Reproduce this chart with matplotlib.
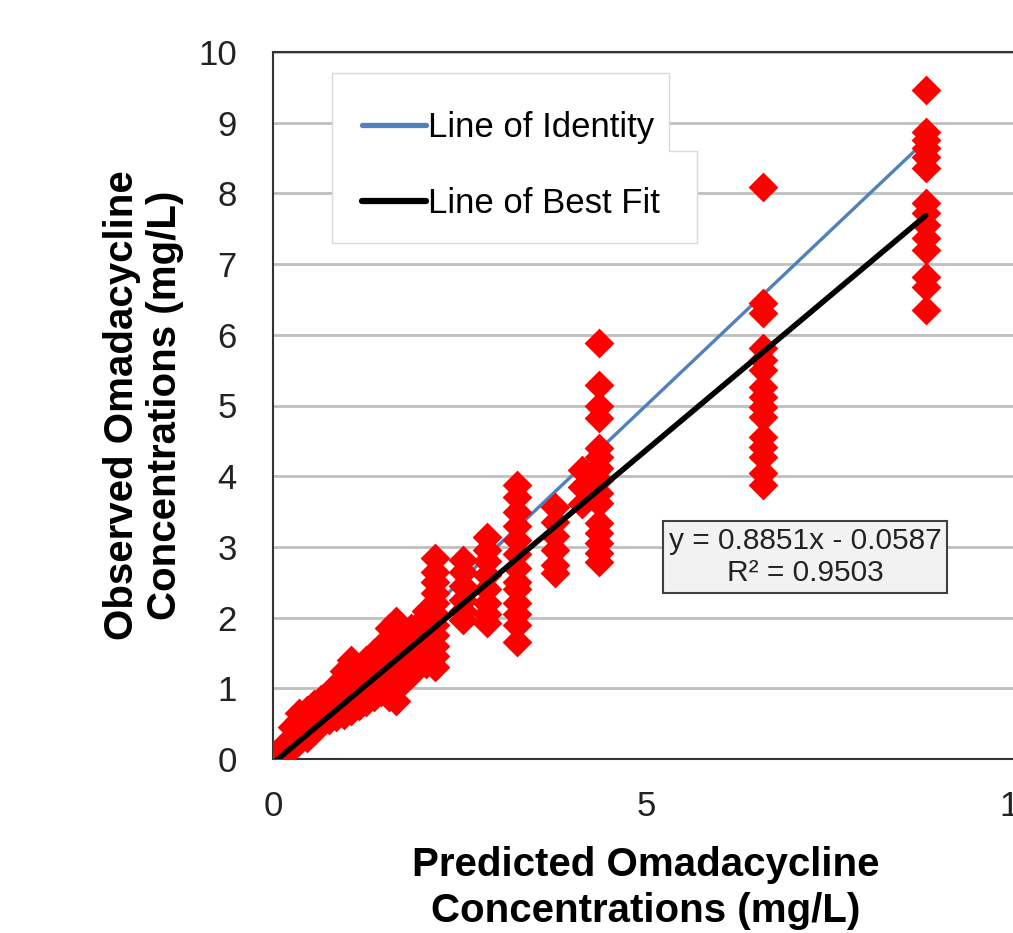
import matplotlib
matplotlib.use('Agg')
import matplotlib.pyplot as plt
from matplotlib import font_manager
from matplotlib.patches import Polygon

# 预测浓度（每一列一个值）和对应的观测浓度
pred_levels = [0.02, 0.08, 0.15, 0.25, 0.35, 0.45, 0.55, 0.65, 0.75, 0.85,
               0.95, 1.05, 1.15, 1.25, 1.35, 1.45, 1.55, 1.65, 1.75, 1.85,
               1.95, 2.05, 2.17, 2.55, 2.87, 3.27, 3.78, 4.14, 4.37, 6.57, 8.75]
obs_groups = [
    [0.0, 0.02, 0.05],
    [0.03, 0.08, 0.12],
    [0.1, 0.12, 0.15, 0.2],
    [0.15, 0.22, 0.3, 0.45],
    [0.25, 0.3, 0.4, 0.55, 0.65],
    [0.3, 0.38, 0.5, 0.7],
    [0.4, 0.48, 0.55, 0.78],
    [0.5, 0.55, 0.62, 0.85],
    [0.55, 0.65, 0.72, 0.9],
    [0.6, 0.7, 0.8, 0.95, 1.05],
    [0.62, 0.75, 0.85, 1.0, 1.25],
    [0.68, 0.85, 0.95, 1.1, 1.3, 1.4],
    [0.75, 0.9, 1.0, 1.15, 1.3],
    [0.8, 0.95, 1.05, 1.2, 1.4],
    [0.88, 1.0, 1.15, 1.3, 1.5],
    [0.95, 1.1, 1.2, 1.35, 1.6],
    [0.88, 1.0, 1.25, 1.45, 1.65, 1.85],
    [0.82, 1.05, 1.3, 1.5, 1.75, 1.95],
    [1.1, 1.25, 1.45, 1.6, 1.8],
    [1.2, 1.4, 1.55, 1.7, 1.85],
    [1.3, 1.45, 1.6, 1.75, 1.9],
    [1.35, 1.5, 1.65, 1.8, 2.1],
    [1.3, 1.45, 1.6, 1.75, 1.9, 2.05, 2.2, 2.35, 2.5, 2.65, 2.84],
    [1.97, 2.1, 2.25, 2.45, 2.65, 2.81],
    [1.92, 2.05, 2.2, 2.4, 2.6, 2.8, 2.95, 3.14],
    [1.66, 1.9, 2.05, 2.2, 2.4, 2.5, 2.7, 2.9, 3.1, 3.3, 3.5, 3.7, 3.88],
    [2.63, 2.75, 2.95, 3.15, 3.35, 3.57],
    [3.6, 3.85, 4.09],
    [2.79, 2.91, 3.05, 3.2, 3.34, 3.62, 3.76, 3.95, 4.11, 4.27, 4.4,
     4.82, 5.0, 5.29, 5.88],
    [3.88, 4.04, 4.27, 4.41, 4.56, 4.84, 4.98, 5.12, 5.26, 5.5, 5.64,
     5.81, 6.31, 6.45, 8.09],
    [6.35, 6.68, 6.82, 7.2, 7.37, 7.55, 7.72, 7.86, 8.36, 8.52, 8.64,
     8.75, 8.87, 9.46],
]

slope = 0.8851
intercept = -0.0587
line_x = [0, 8.75]

x_ticks = [0, 5, 10]
y_ticks = list(range(0, 11))

# 展开成散点
pred = []
obs = []
for p, group in zip(pred_levels, obs_groups):
    for o in group:
        pred.append(p)
        obs.append(o)

installed = {f.name for f in font_manager.fontManager.ttflist}
if 'Liberation Sans Narrow' in installed:
    legend_font = 'Liberation Sans Narrow'
    legend_size = 29
else:
    legend_font = 'Liberation Sans'
    legend_size = 25
plt.rcParams['font.family'] = ['Liberation Sans', 'DejaVu Sans']

W, H = 1013, 933
fig = plt.figure(figsize=(W / 100, H / 100), dpi=100)
fig.set_facecolor('white')
# 右边被裁掉，所以坐标区伸出画布
ax = fig.add_axes([273 / W, 1 - 759 / H, 746 / W, 707 / H])

ax.set_xlim(0, 10)
ax.set_ylim(0, 10)
ax.set_xticks(x_ticks)
ax.set_yticks(y_ticks)
ax.tick_params(length=0, labelsize=25, colors='#222222')
ax.tick_params(axis='y', pad=26)
ax.tick_params(axis='x', pad=22)
ax.yaxis.grid(True, color='#BFBFBF', linewidth=2)
ax.set_axisbelow(True)
for side in ['left', 'top', 'right', 'bottom']:
    ax.spines[side].set_color('#333333')
    ax.spines[side].set_linewidth(1.5)

identity_y = line_x
fit_y = [slope * x + intercept for x in line_x]
ax.plot(line_x, identity_y, color='#4F81BD', linewidth=2.4, zorder=2,
        solid_capstyle='round', label='Line of Identity')
ax.scatter(pred, obs, marker='D', s=230, color='#FF0000', linewidths=0,
           zorder=3)
ax.plot(line_x, fit_y, color='black', linewidth=4, zorder=4,
        solid_capstyle='round', label='Line of Best Fit')

ax.set_xlabel('Predicted Omadacycline\nConcentrations (mg/L)',
              fontsize=29, fontweight='bold', labelpad=17, linespacing=1.25)
ax.set_ylabel('Observed Omadacycline\nConcentrations (mg/L)',
              fontsize=29, fontweight='bold', labelpad=10, linespacing=1.18)

# 图例外框（两个错开的框）
pts = [(332, 73), (669, 73), (669, 151), (697, 151), (697, 243), (332, 243)]
poly = Polygon([(x / W, 1 - y / H) for x, y in pts], closed=True,
               transform=fig.transFigure, facecolor='white',
               edgecolor='#D9D9D9', linewidth=1, zorder=5)
ax.add_patch(poly)

leg = ax.legend(loc='upper left', bbox_to_anchor=(362 / W, 1 - 111 / H),
                bbox_transform=fig.transFigure, frameon=False,
                prop={'family': legend_font, 'size': legend_size},
                handlelength=1.85, handletextpad=0.05, labelspacing=1.25,
                borderpad=0, borderaxespad=0)
leg.set_zorder(6)
for h in leg.legend_handles:
    h.set_linewidth(4.5 if h.get_color() == 'black' else 3.8)

ax.text(7.13, 2.86, 'y = 0.8851x - 0.0587\nR² = 0.9503', fontsize=21.5,
        ha='center', va='center', color='#222222', zorder=6,
        linespacing=1.2,
        bbox=dict(boxstyle='square,pad=0.2', facecolor='#F2F2F2',
                  edgecolor='#404040', linewidth=1.5))

fig.savefig('out.png', dpi=100)
